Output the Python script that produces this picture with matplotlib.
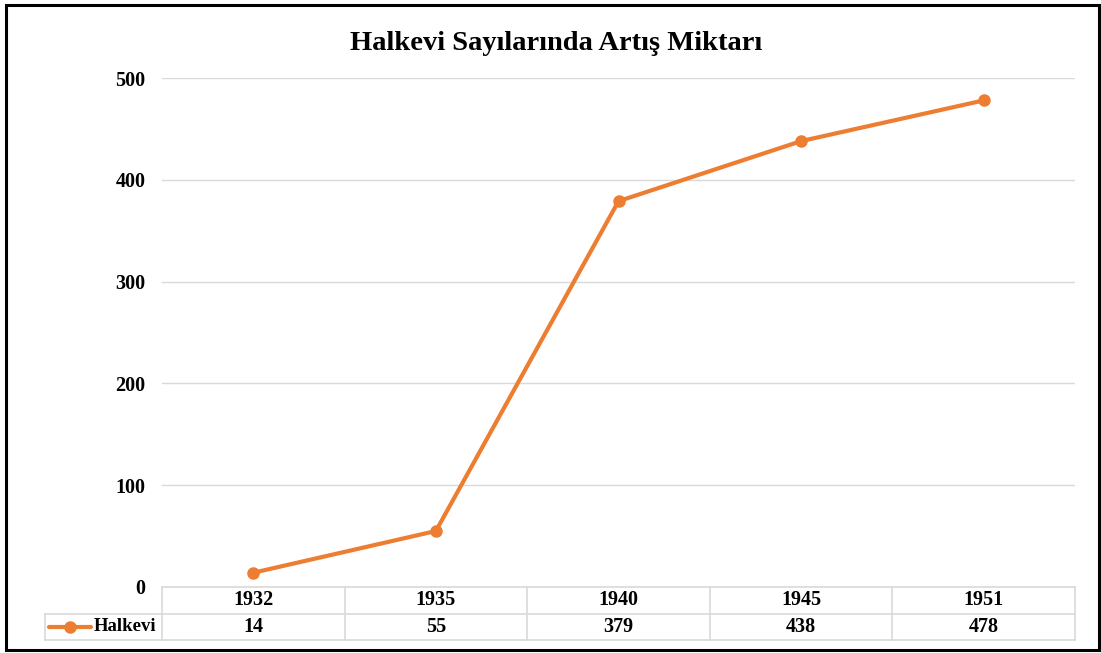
import matplotlib
matplotlib.use("Agg")
import matplotlib.pyplot as plt
import matplotlib.transforms as mtransforms
from matplotlib.patches import Rectangle
from matplotlib.lines import Line2D

years = ["1932", "1935", "1940", "1945", "1951"]
halkevi = [14, 55, 379, 438, 478]
yticks = [0, 100, 200, 300, 400, 500]
series_name = "Halkevi"
title = "Halkevi Sayılarında Artış Miktarı"

plt.rcParams['font.family'] = ['Liberation Serif', 'DejaVu Serif']
plt.rcParams['font.weight'] = 'bold'

W, H = 1101, 653
fig = plt.figure(figsize=(W / 100, H / 100), dpi=100)

L, R, T, B = 162, 1075, 78, 587
ax = fig.add_axes([L / W, 1 - B / H, (R - L) / W, (B - T) / H])

orange = "#ED7D31"
grid_c = "#D9D9D9"
fs = 14.5
x = list(range(len(years)))
ax.plot(x, halkevi, color=orange, lw=3.0, marker='o', ms=8, zorder=3,
        solid_capstyle='round')

ax.set_xlim(-0.5, len(years) - 0.5)
ax.set_ylim(0, 500)
ax.set_yticks(yticks)
ax.set_yticklabels([str(v) for v in yticks], fontsize=fs, fontweight='bold')
ax.tick_params(axis='y', length=0, pad=12)
ax.set_xticks([])
for s in ax.spines.values():
    s.set_visible(False)
ax.yaxis.grid(True, color=grid_c, lw=1)
ax.set_axisbelow(True)

# data table
trans = mtransforms.blended_transform_factory(ax.transData, ax.transAxes)
hpx = B - T
row = 26.5 / hpx
leg_left = -0.5 - (L - 45) / ((R - L) / len(years))
n = len(years)
kw = dict(transform=trans, color=grid_c, lw=1.2, clip_on=False)
ax.add_line(Line2D([-0.5, n - 0.5], [0, 0], **kw))
ax.add_line(Line2D([leg_left, n - 0.5], [-row, -row], **kw))
ax.add_line(Line2D([leg_left, n - 0.5], [-2 * row, -2 * row], **kw))
for b in range(n + 1):
    ax.add_line(Line2D([b - 0.5, b - 0.5], [0, -2 * row], **kw))
ax.add_line(Line2D([leg_left, leg_left], [-row, -2 * row], **kw))

for i, (yr, v) in enumerate(zip(years, halkevi)):
    ax.text(i, -row / 2, yr, transform=trans, ha='center', va='center',
            fontsize=fs, fontweight='bold')
    ax.text(i, -1.5 * row, str(v), transform=trans, ha='center', va='center',
            fontsize=fs, fontweight='bold')

# legend key in table
ppx = (R - L) / n
kx0 = leg_left + 4 / ppx
kx1 = leg_left + 46 / ppx
ax.add_line(Line2D([kx0, kx1], [-1.5 * row, -1.5 * row], transform=trans,
                   color=orange, lw=3.0, clip_on=False, solid_capstyle='round'))
ax.add_line(Line2D([(kx0 + kx1) / 2], [-1.5 * row], transform=trans,
                   color=orange, marker='o', ms=8, clip_on=False))
ax.text(leg_left + 49 / ppx, -1.5 * row, series_name, transform=trans,
        ha='left', va='center', fontsize=13.5, fontweight='bold')

fig.text(556 / W, 1 - 43 / H, title, ha='center', va='center',
         fontsize=20.5, fontweight='bold')

# outer border
fig.patches.append(Rectangle((6.5 / W, 3.5 / H), (1092 / W), (645 / H),
                             transform=fig.transFigure, fill=False,
                             edgecolor='black', lw=2.2))

fig.savefig("out.png", dpi=100)
